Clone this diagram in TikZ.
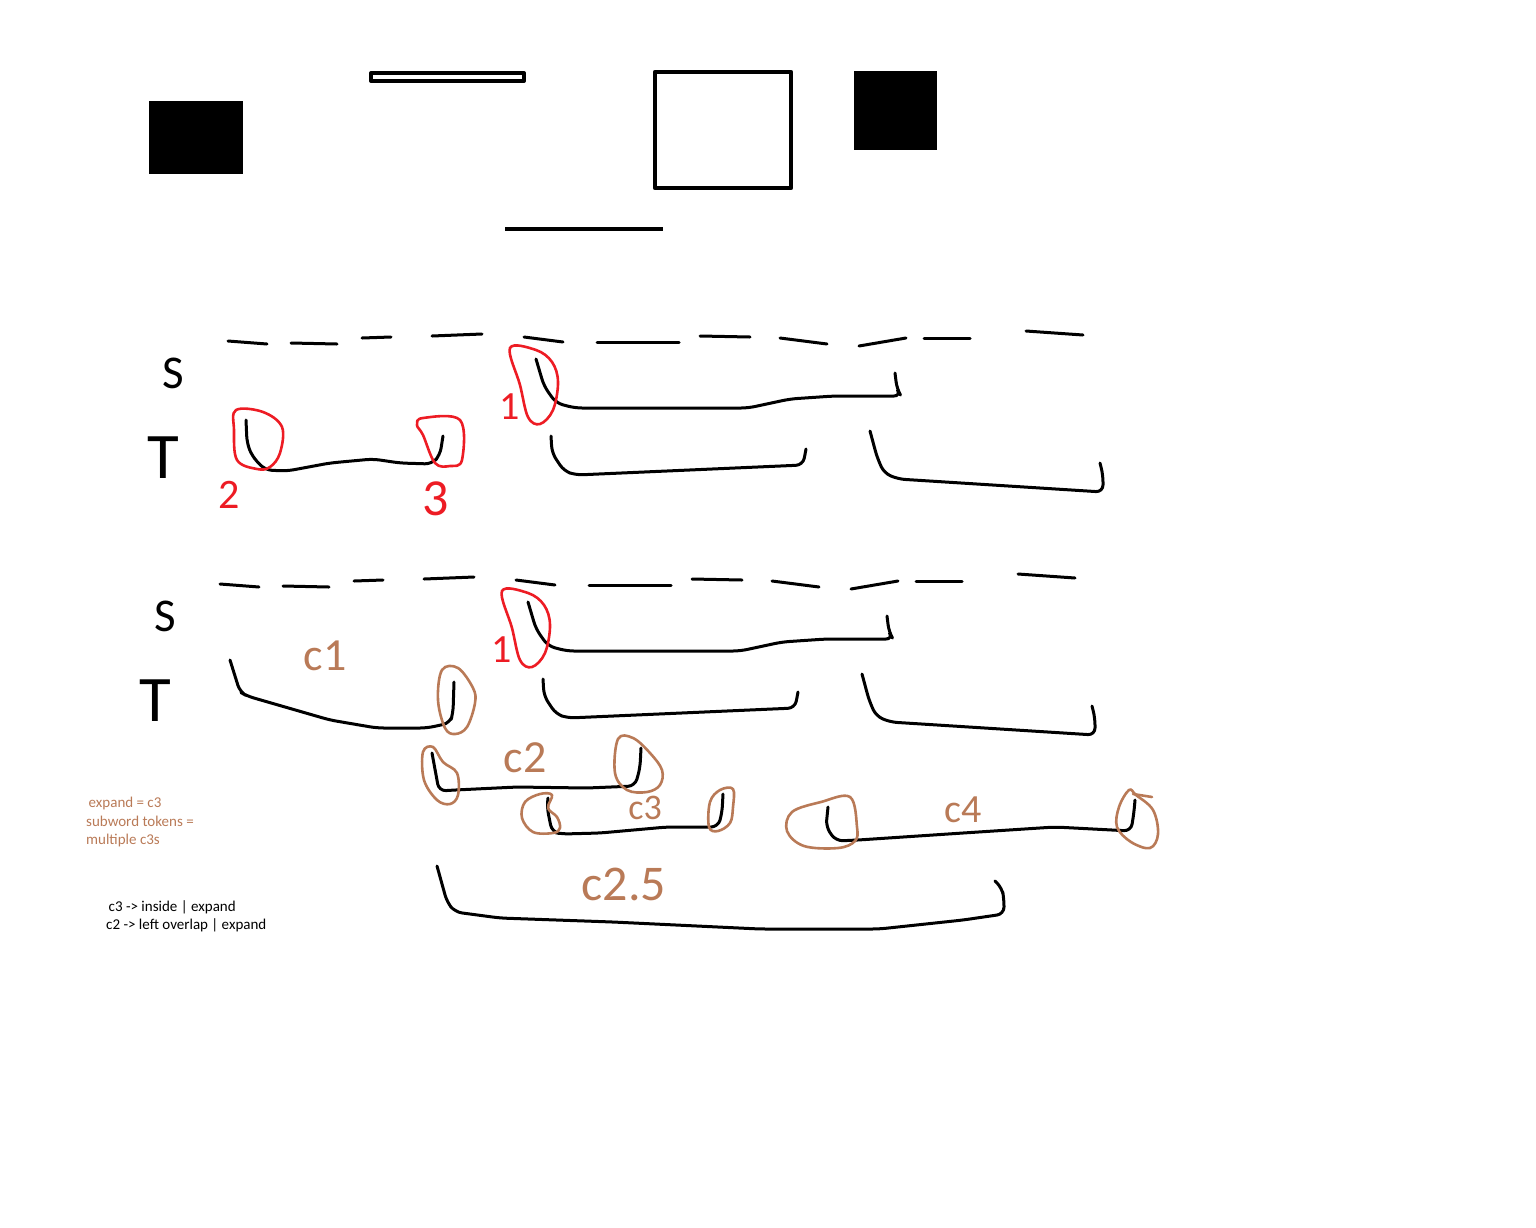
\documentclass[tikz,border=0pt]{standalone}
\usepackage{fontspec}
\setmainfont{Carlito}
\usetikzlibrary{positioning}
\definecolor{paintred}{RGB}{237,28,36}
\definecolor{paintbrown}{RGB}{185,122,87}

\begin{document}
\begin{tikzpicture}[
  x=1pt, y=-1pt,
  line cap=round, line join=round,
  pen/.style={draw, line width=3pt, rounded corners=7pt},
  redpen/.style={draw=paintred, line width=2.6pt},
  brownpen/.style={draw=paintbrown, line width=2.6pt},
  hand/.style={inner sep=0pt, font=\fontsize{#1}{#1}\selectfont},
  note/.style={inner sep=0pt, anchor=north west, align=left, font=\fontsize{15}{18.5}\selectfont}
]
  \useasboundingbox (0,0) rectangle (1536,1227);

  % boxes at the top
  \fill (149,101) rectangle (243,174);
  \draw[line width=4pt] (371,73) rectangle (524,81);
  \draw[line width=4.5pt] (655,72) rectangle (791,188);
  \fill (854,71) rectangle (937,150);
  \draw[line width=4pt, line cap=butt] (505,229) -- (663,229);

  % the two S/T rows
  \foreach \dx/\dy/\r in {0/0/1, -8/243/2} {
    \begin{scope}[shift={(\dx,\dy)}]
      \node[hand=47] (S\r) at (173,373) {S};
      \node[hand=65] (T\r) at (163,458) {T};
      \foreach \xa/\ya/\xb/\yb in {228/341/267/344, 291/343/337/344, 362/338/391/337,
          432/336/482/334, 524/337/563/342, 597/342/679/342, 700/336/750/337,
          780/338/827/344, 859/346/906/338, 924/338/970/338, 1026/331/1083/335}
        \draw[pen] (\xa,\ya) -- (\xb,\yb);
      \draw[pen] (536,359) -- (544,386) -- (556,403) -- (575,408) -- (748,408)
        -- (790,399) -- (834,396) -- (901,396) -- (897,389) -- (895,373);
      \draw[pen] (551,436) -- (552,453) -- (564,471) -- (576,475) -- (803,465) -- (806,449);
      \draw[pen] (870,431) -- (877,457) -- (884,473) -- (898,479) -- (1103,492) -- (1103,475)
        -- (1100,463);
      \draw[redpen] plot[smooth cycle, tension=0.6] coordinates {(510,348) (536,350) (552,362)
        (558,382) (553,410) (540,424) (528,417) (520,385)};
      \node[hand=40, text=paintred] (one\r) at (510,407) {1};
    \end{scope}
  }

  % row 1, left of T
  \draw[pen] (246,420) -- (247,443) -- (252,456) -- (265,470) -- (287,471) -- (330,463)
    -- (373,459) -- (400,463) -- (432,464) -- (440,455) -- (443,436);
  \draw[redpen] plot[smooth cycle, tension=0.6] coordinates {(236,410) (263,412) (282,427)
    (280,453) (270,467) (257,469) (237,460) (234,430)};
  \draw[redpen] plot[smooth cycle, tension=0.6] coordinates {(417,425) (423,418) (460,420)
    (462,460) (450,466) (435,463) (423,435)};
  \node[hand=42, text=paintred] (two) at (229,495) {2};
  \node[hand=52, text=paintred] (three) at (436,499) {3};

  % row 2, left of T
  \draw[pen] (230,660) -- (240,692) -- (247,696) -- (330,720) -- (377,728) -- (427,728)
    -- (450,723) -- (453,713) -- (454,682);
  \draw[brownpen] plot[smooth cycle, tension=0.6] coordinates {(442,670) (458,668) (473,688)
    (475,703) (467,727) (455,734) (445,728) (438,700)};
  \node[hand=46, text=paintbrown] (c1) at (325,656) {c1};

  % c2
  \draw[pen] (432,753) -- (439,791) -- (455,790) -- (517,787) -- (587,788) -- (635,786)
    -- (640,768) -- (641,748);
  \draw[brownpen] plot[smooth cycle, tension=0.6] coordinates {(433,747) (423,752) (424,780)
    (437,800) (450,804) (458,795) (457,773) (443,762)};
  \draw[brownpen] plot[smooth cycle, tension=0.6] coordinates {(618,739) (633,738) (650,753)
    (662,770) (660,785) (647,792) (627,790) (615,773)};
  \node[hand=46, text=paintbrown] (c2) at (525,758) {c2};

  % c3
  \draw[pen] (548,798) -- (547,807) -- (552,832) -- (562,834) -- (600,833) -- (667,827)
    -- (718,827) -- (722,813) -- (723,794);
  \draw[brownpen] plot[smooth cycle, tension=0.6] coordinates {(552,795) (540,794) (525,802)
    (522,818) (533,832) (553,833) (560,828) (557,817) (548,808)};
  \draw[brownpen] plot[smooth cycle, tension=0.6] coordinates {(733,789) (720,790) (710,802)
    (709,827) (718,831) (730,823) (733,807)};
  \node[hand=36, text=paintbrown] (c3) at (645,808) {c3};

  % c4
  \draw[pen] (828,807) -- (826,827) -- (836,841) -- (858,840) -- (963,833) -- (1055,827)
    -- (1131,831) -- (1134,812) -- (1135,800);
  \draw[brownpen] plot[smooth cycle, tension=0.6] coordinates {(850,797) (821,802) (792,812)
    (787,831) (804,846) (838,848) (855,841) (857,827)};
  \draw[brownpen] plot[smooth cycle, tension=0.6] coordinates {(1129,790) (1119,807) (1117,827)
    (1131,842) (1150,848) (1158,834) (1153,810) (1136,795)};
  \draw[brownpen] (1133,794) -- (1152,797);
  \node[hand=40, text=paintbrown] (c4) at (963,810) {c4};

  % c2.5
  \draw[pen] (437,866) -- (447,902) -- (455,912) -- (500,918) -- (613,922) -- (760,929)
    -- (879,929) -- (963,920) -- (1004,914) -- (1004,899) -- (1002,888) -- (995,881);
  \node[hand=50, text=paintbrown] (c25) at (624,884) {c2.5};

  % notes
  \node[note, text=paintbrown] (expand) at (86,797) {\,expand = c3\\subword tokens =\\multiple c3s};
  \node[note] (rules) at (106,900) {\,c3 -> inside | expand\\c2 -> left overlap | expand};
\end{tikzpicture}
\end{document}
